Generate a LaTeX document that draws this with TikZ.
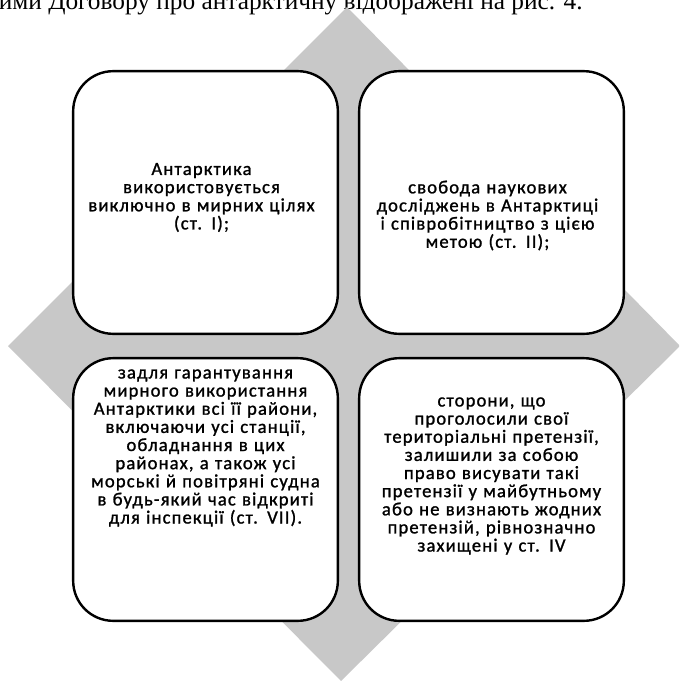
\documentclass[tikz,border=0pt]{standalone}
\usepackage{fontspec}
\setmainfont{Liberation Serif}
\newfontfamily\boxfont[LetterSpace=6,FakeBold=1.2]{Carlito}
\usetikzlibrary{positioning}

\definecolor{diamondgray}{RGB}{200,200,200}

\begin{document}
\begin{tikzpicture}[
    x=0.75pt, y=-0.75pt,
    quad/.style={rectangle, draw, line width=1.8pt, rounded corners=30pt, fill=white,
        minimum width=198.5pt, minimum height=197pt, inner sep=0pt},
    txt/.style={align=center, text width=196pt, inner sep=0pt,
        font=\boxfont\fontsize{14}{13.6}\selectfont}
]
    \useasboundingbox (0,0) rectangle (679,681);
    \clip (0,0) rectangle (679,681);

    % line of the page above the figure, cut off
    \node[anchor=base east, inner sep=0pt, font=\fontsize{19}{21}\selectfont] (pageline) at (583,10)
        {ними Договору про антарктичну відображені на рис. 4.};

    % grey diamond behind the boxes
    \fill[diamondgray] (347,7) -- (680,346) -- (341,681) -- (8,346) -- cycle;

    \node[quad] (tl) at (205.5,202.5) {};
    \node[quad] (tr) at (491.5,202.5) {};
    \node[quad] (bl) at (205.5,489.5) {};
    \node[quad] (br) at (491.5,489.5) {};

    \node[txt] (tltext) at (201.5,197.5) {Антарктика\\ використовується\\ виключно в мирних цілях\\ (ст. I);};
    \node[txt] (trtext) at (487.5,215.5) {свобода наукових\\ досліджень в Антарктиці\\ і співробітництво з цією\\ метою (ст. II);};
    \node[txt] (bltext) at (205.5,448) {задля гарантування\\ мирного використання\\ Антарктики всі її райони,\\ включаючи усі станції,\\ обладнання в цих\\ районах, а також усі\\ морські й повітряні судна\\ в будь-який час відкриті\\ для інспекції (ст. VII).};
    \node[txt] (brtext) at (491.5,476) {сторони, що\\ проголосили свої\\ територіальні претензії,\\ залишили за собою\\ право висувати такі\\ претензії у майбутньому\\ або не визнають жодних\\ претензій, рівнозначно\\ захищені у ст. IV};
\end{tikzpicture}
\end{document}
